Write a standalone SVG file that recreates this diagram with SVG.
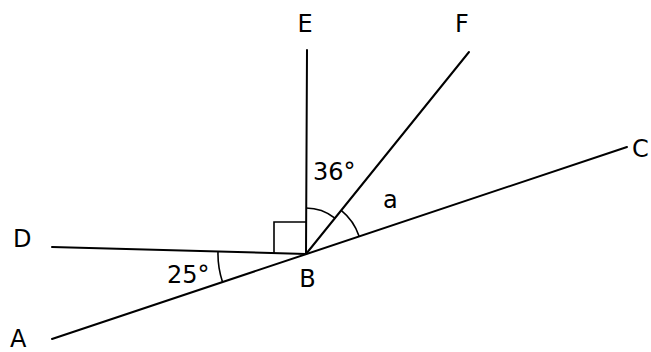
<svg xmlns="http://www.w3.org/2000/svg" width="651" height="352" viewBox="0 0 651 352">
<style>
.ln{stroke:#000;stroke-width:2;fill:none;stroke-linecap:round}
.arc{stroke:#000;stroke-width:1.6;fill:none}
.lbl{font-family:"DejaVu Sans",Verdana,sans-serif;font-size:24px;fill:#000}
</style>
<rect width="651" height="352" fill="#fff"/>
<g id="connectors">
<line class="ln" x1="52" y1="339" x2="627" y2="147"/>
<line class="ln" x1="52" y1="247" x2="306" y2="254"/>
<line class="ln" x1="307" y1="50" x2="306" y2="254"/>
<line class="ln" x1="469" y1="52" x2="306" y2="254"/>
</g>
<g id="angle-marks">
<path class="arc" d="M274,253 V222 H306"/>
<path class="arc" d="M306,208 A46,46 0 0 1 334.9,218.2"/>
<path class="arc" d="M341.2,210.4 A56,56 0 0 1 359.1,236.3"/>
<path class="arc" d="M218,251.6 A88,88 0 0 0 222.5,281.9"/>
</g>
<g id="E"><text class="lbl" x="305" y="32" text-anchor="middle">E</text></g>
<g id="F"><text class="lbl" x="462" y="32" text-anchor="middle">F</text></g>
<g id="C"><text class="lbl" x="632" y="157">C</text></g>
<g id="D"><text class="lbl" x="13" y="247">D</text></g>
<g id="A"><text class="lbl" x="10" y="347">A</text></g>
<g id="B"><text class="lbl" x="307.5" y="287" text-anchor="middle">B</text></g>
<g id="label-a"><text class="lbl" x="383" y="208">a</text></g>
<g id="label-36"><text class="lbl" x="313" y="180">36°</text></g>
<g id="label-25"><text class="lbl" x="167" y="283">25°</text></g>
</svg>
